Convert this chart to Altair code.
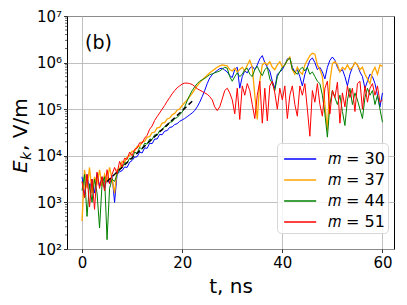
import altair as alt
import pandas as pd

# time axis (ns), 0.5 ns step
t_ns = [i * 0.5 for i in range(121)]

# log10(E_k)
log_m30 = [
    3.55, 3.15, 3.60, 3.30, 3.50, 3.20, 3.62, 3.35, 3.55, 3.30,
    3.52, 3.40, 3.58, 3.00, 3.60, 3.66, 3.68, 3.76, 3.75, 3.86,
    3.90, 3.97, 3.98, 4.08, 4.06, 4.17, 4.16, 4.27, 4.26, 4.36,
    4.36, 4.46, 4.45, 4.53, 4.54, 4.61, 4.62, 4.67, 4.69, 4.74,
    4.77, 4.80, 4.84, 4.88, 4.92, 4.97, 5.05, 5.15, 5.27, 5.40,
    5.55, 5.67, 5.74, 5.79, 5.83, 5.87, 5.88, 5.84, 5.80, 5.72,
    5.68, 5.85, 5.90, 5.45, 5.70, 5.82, 5.78, 5.88, 5.92, 5.85,
    5.95, 6.08, 6.15, 6.00, 5.90, 5.82, 5.60, 5.45, 5.75, 5.80,
    5.85, 5.95, 6.08, 6.10, 5.90, 5.80, 5.85, 5.70, 5.50, 5.75,
    5.90, 6.05, 6.10, 6.00, 5.85, 5.90, 5.80, 5.65, 5.90, 6.05,
    6.12, 6.05, 5.90, 5.80, 5.85, 5.70, 5.50, 5.75, 5.90, 6.00,
    5.95, 5.80, 5.70, 5.45, 5.60, 5.75, 5.70, 5.55, 5.30, 5.05,
    5.35,
]
log_m37 = [
    2.60, 3.70, 3.30, 3.75, 3.20, 3.55, 3.40, 3.70, 3.35, 3.60,
    3.45, 3.75, 3.50, 3.20, 3.70, 3.72, 3.88, 3.86, 3.98, 4.00,
    4.10, 4.10, 4.20, 4.20, 4.30, 4.31, 4.40, 4.41, 4.50, 4.51,
    4.60, 4.61, 4.70, 4.71, 4.79, 4.81, 4.88, 4.91, 4.98, 5.01,
    5.08, 5.14, 5.20, 5.27, 5.34, 5.42, 5.50, 5.57, 5.63, 5.68,
    5.73, 5.78, 5.82, 5.86, 5.90, 5.93, 5.95, 5.94, 5.93, 5.85,
    5.82, 5.88, 5.80, 5.85, 5.90, 5.82, 5.95, 6.05, 5.90, 5.30,
    4.78, 5.60, 5.95, 6.00, 5.95, 6.02, 5.90, 5.85, 5.95, 6.02,
    5.90, 5.95, 6.05, 6.12, 5.85, 5.75, 5.90, 5.80, 5.75, 5.95,
    6.05, 6.15, 6.20, 6.18, 5.95, 5.85, 5.70, 5.10, 4.55, 5.60,
    5.98, 6.02, 5.95, 5.80, 5.90, 5.85, 5.95, 5.85, 5.90, 6.00,
    5.95, 5.85, 5.90, 5.75, 5.65, 5.55, 5.80, 5.90, 5.75, 5.95,
    5.92,
]
log_m44 = [
    3.25, 3.60, 2.70, 3.40, 3.00, 3.50, 3.20, 2.45, 3.40, 3.55,
    2.20, 3.30, 3.50, 3.45, 3.60, 3.72, 3.74, 3.85, 3.84, 3.95,
    3.93, 4.08, 4.05, 4.18, 4.14, 4.27, 4.25, 4.36, 4.35, 4.45,
    4.44, 4.54, 4.55, 4.63, 4.64, 4.72, 4.73, 4.80, 4.82, 4.88,
    4.94, 5.05, 5.18, 5.30, 5.40, 5.48, 5.55, 5.60, 5.63, 5.66,
    5.70, 5.74, 5.76, 5.78, 5.80, 5.82, 5.86, 5.90, 5.88, 5.70,
    5.60, 5.70, 5.78, 5.70, 5.75, 5.85, 5.88, 5.75, 5.70, 5.85,
    5.92, 5.80, 5.72, 5.85, 5.90, 5.65, 5.55, 5.40, 5.70, 5.80,
    5.90, 5.95, 6.05, 6.10, 5.85, 5.80, 5.75, 5.85, 5.90, 5.82,
    5.90, 5.75, 5.80, 5.70, 5.60, 5.55, 5.30, 4.90, 4.40, 5.10,
    5.40, 5.25, 5.10, 5.30, 4.95, 4.65, 5.20, 5.45, 5.10, 5.35,
    5.20, 5.00, 4.80, 5.25, 5.45, 5.30, 5.40, 5.10, 5.30, 5.00,
    4.72,
]
log_m51 = [
    3.45, 3.10, 3.60, 2.90, 3.50, 2.85, 3.65, 3.30, 3.55, 3.25,
    3.70, 3.40, 3.60, 3.75, 3.62, 3.88, 3.76, 3.95, 3.92, 4.08,
    4.00, 4.14, 4.16, 4.28, 4.27, 4.38, 4.44, 4.57, 4.64, 4.76,
    4.84, 4.92, 5.00, 5.08, 5.17, 5.25, 5.33, 5.40, 5.46, 5.50,
    5.54, 5.56, 5.56, 5.55, 5.53, 5.49, 5.44, 5.41, 5.38, 5.35,
    5.32, 5.27, 5.20, 5.05, 4.97, 5.05, 5.22, 5.40, 5.45, 5.35,
    5.20, 4.90, 5.45, 4.78, 5.50, 5.30, 5.55, 5.40, 5.10, 4.80,
    5.30, 5.60, 4.70, 5.45, 4.75, 5.50, 5.60, 5.35, 5.00, 5.45,
    5.20, 5.50, 4.80, 5.30, 5.50, 5.10, 4.85, 5.50, 5.30, 5.55,
    5.00, 4.42, 5.40, 5.15, 5.55, 5.10, 4.85, 5.45, 5.60, 4.90,
    5.40, 5.25, 5.58, 4.70, 5.35, 5.05, 5.50, 5.25, 5.45, 4.95,
    5.55, 5.60, 5.00, 5.50, 5.15, 5.45, 5.55, 5.30, 5.50, 5.15,
    5.20,
]

# dashed exponential fit
fit_t = [5.0, 22.0]
fit_log = [3.45, 5.17]

series_labels = ["\U0001D45A = 30", "\U0001D45A = 37", "\U0001D45A = 44", "\U0001D45A = 51"]
series_colors = ["blue", "orange", "green", "red"]
series_logs = [log_m30, log_m37, log_m44, log_m51]
series_widths = [1.0, 1.3, 1.0, 1.0]

for s in series_logs:
    assert len(s) == len(t_ns), len(s)

FONT = "DejaVu Sans"

x_enc = alt.X(
    "t:Q",
    scale=alt.Scale(domain=[-3, 62.3], nice=False, zero=False),
    axis=alt.Axis(
        values=[0, 20, 40, 60], title="t, ns", titleFontSize=20, titleFont=FONT,
        titleFontWeight="normal", titleBaseline="alphabetic", titleY=43,
        labelFontSize=15, labelFont=FONT, labelPadding=3, tickSize=3.5,
        tickWidth=0.8, tickColor="black", labelColor="black", titleColor="black",
        grid=True, gridColor="#b0b0b0", gridWidth=0.8, domain=False,
    ),
)
y_enc = alt.Y(
    "E:Q",
    scale=alt.Scale(type="log", domain=[1e2, 1e7], nice=False),
    axis=alt.Axis(
        values=[1e2, 1e3, 1e4, 1e5, 1e6, 1e7], title=None,
        labelExpr="'10' + ['\u2070','\u00b9','\u00b2','\u00b3','\u2074','\u2075','\u2076','\u2077','\u2078'][round(log(datum.value)/LN10)]",
        labelFontSize=15, labelFont=FONT, labelPadding=2, tickSize=3.5,
        tickWidth=0.8, tickColor="black", labelColor="black",
        grid=True, gridColor="#b0b0b0", gridWidth=0.8, domain=False,
    ),
)
color_enc = alt.Color(
    "series:N",
    scale=alt.Scale(domain=series_labels, range=series_colors),
    legend=alt.Legend(
        title=None, orient="none", legendX=210, legendY=127,
        symbolType="M-0.75,0H1.96", symbolSize=560, symbolStrokeWidth=1.5,
        labelFontSize=16, labelFont=FONT, labelColor="black", labelOffset=22,
        labelLimit=0, fillColor="rgba(255,255,255,0.8)", strokeColor="#d8d8d8",
        cornerRadius=4, padding=3, rowPadding=0,
    ),
)

layers = []

# minor log ticks on the y axis
minor_vals = [k * 10 ** n for n in range(2, 7) for k in range(2, 10)]
minor = alt.Chart(pd.DataFrame({"E": minor_vals})).mark_rule(
    color="black", strokeWidth=0.6
).encode(y=y_enc, x=alt.value(0), x2=alt.value(-2))
layers.append(minor)

for lab, logs, w in zip(series_labels, series_logs, series_widths):
    df = pd.DataFrame({"t": t_ns, "E": [10 ** v for v in logs], "series": lab})
    layers.append(
        alt.Chart(df).mark_line(strokeWidth=w).encode(x=x_enc, y=y_enc, color=color_enc)
    )

fit_df = pd.DataFrame({"t": fit_t, "E": [10 ** v for v in fit_log]})
layers.append(
    alt.Chart(fit_df).mark_line(color="black", strokeWidth=1.5, strokeDash=[5, 3]).encode(x=x_enc, y=y_enc)
)

one = pd.DataFrame({"a": [0]})
def label(txt, x, y, size, style="normal", **kw):
    return alt.Chart(one).mark_text(
        text=txt, fontSize=size, font=FONT, fontStyle=style, color="black", **kw
    ).encode(x=alt.value(x), y=alt.value(y))

layers.append(label("(b)", 18, 27, 19, align="left", baseline="middle"))
layers.append(label("E", -40, 157, 20, "italic", angle=270, align="left", baseline="alphabetic"))
layers.append(label("k", -36, 144, 14, "italic", angle=270, align="left", baseline="alphabetic"))
layers.append(label(", V/m", -40, 135, 20, angle=270, align="left", baseline="alphabetic"))

chart = alt.layer(*layers).properties(
    width=327, height=233,
    autosize=alt.AutoSizeParams(type="none"),
    padding={"left": 59, "top": 8, "right": 5, "bottom": 53},
    background="white",
).configure_view(stroke="black", strokeWidth=1)

chart.save("out.html", embed_options={"renderer": "svg", "actions": False})
